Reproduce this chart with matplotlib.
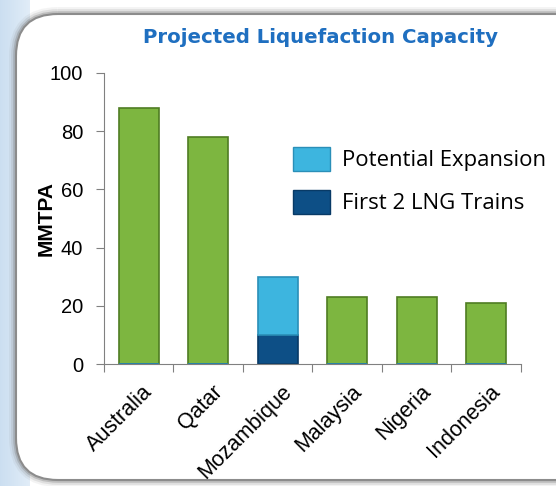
import numpy as np
import matplotlib.pyplot as plt
from matplotlib.patches import FancyBboxPatch, Patch
import matplotlib.transforms as mtrans

# data
countries = ['Australia', 'Qatar', 'Mozambique', 'Malaysia', 'Nigeria', 'Indonesia']
capacity = [88, 78, 0, 23, 23, 21]
first_trains = [0, 0, 10, 0, 0, 0]
potential = [0, 0, 20, 0, 0, 0]

fig = plt.figure(figsize=(5.56, 4.86), dpi=100)
fig.patch.set_facecolor('white')

# light blue strip on the left and rounded panel
bg = fig.add_axes([0, 0, 1, 1], zorder=-5)
bg.axis('off')
bg.set_xlim(0, 556)
bg.set_ylim(486, 0)
grad = np.linspace(1, 0, 30).reshape(1, -1)
bg.imshow(grad, extent=[0, 30, 486, 0], cmap='Blues', vmin=-1, vmax=8, aspect='auto')
for lw, a in [(10, 0.08), (7, 0.15), (4, 0.3)]:
    bg.add_patch(FancyBboxPatch((16, 14), 600, 466, boxstyle='round,pad=0,rounding_size=42',
                                fc='none', ec='#707070', lw=lw, alpha=a))
bg.add_patch(FancyBboxPatch((16, 14), 600, 466, boxstyle='round,pad=0,rounding_size=42',
                            fc='white', ec='#8c8c8c', lw=1.5))

ax = fig.add_axes([0.187, 0.251, 0.75, 0.599])
x = np.arange(len(countries))
w = 0.575
ax.bar(x, capacity, w, color='#7db640', edgecolor='#4f7d22', lw=1.2)
ax.bar(x, first_trains, w, color='#0d4f86', edgecolor='#083a66', lw=1.2)
ax.bar(x, potential, w, bottom=first_trains, color='#3db5df', edgecolor='#2a8fb8', lw=1.2)

ax.set_xlim(-0.5, len(countries) - 0.5)
ax.set_ylim(0, 100)
ax.set_yticks([0, 20, 40, 60, 80, 100])
ax.set_xticks(np.arange(len(countries) + 1) - 0.5, minor=False)
ax.set_xticklabels([])
ax.set_xticks(x, minor=True)
ax.tick_params(axis='x', which='minor', length=0, pad=4)
ax.tick_params(axis='x', which='major', length=6, direction='out', color='#808080')
ax.tick_params(axis='y', length=6, color='#808080', labelsize=14.5, pad=9)
ax.set_xticklabels(countries, minor=True, rotation=45, ha='right', va='center',
                   rotation_mode='anchor', fontsize=15.5, family='Liberation Sans')
# shift the rotated labels down and right, like the original
off = mtrans.ScaledTranslation(11 / 100, -19 / 100, fig.dpi_scale_trans)
for lab in ax.get_xticklabels(minor=True):
    lab.set_transform(lab.get_transform() + off)
for lab in ax.get_yticklabels():
    lab.set_family('Liberation Sans')
for s in ['top', 'right']:
    ax.spines[s].set_visible(False)
for s in ['left', 'bottom']:
    ax.spines[s].set_color('#808080')
ax.set_facecolor('none')
ax.set_ylabel('MMTPA', fontsize=15, fontweight='bold', family='Liberation Sans')
ax.yaxis.set_label_coords(-0.117, 0.5)

fig.text(0.576, 0.922, 'Projected Liquefaction Capacity', color='#1f6fc0', fontsize=14.2,
         fontweight='bold', family='DejaVu Sans', ha='center', va='center')

handles = [Patch(fc='#3db5df', ec='#2a8fb8'), Patch(fc='#0d4f86', ec='#083a66')]
fig.legend(handles, ['Potential Expansion', 'First 2 LNG Trains'], loc='upper left',
           bbox_to_anchor=(0.527, 0.698), frameon=False, prop={'family': 'Open Sans', 'size': 15.9},
           borderpad=0, borderaxespad=0,
           handlelength=1.68, handleheight=1.3, handletextpad=0.55, labelspacing=0.85)

fig.savefig('out.png', dpi=100)
